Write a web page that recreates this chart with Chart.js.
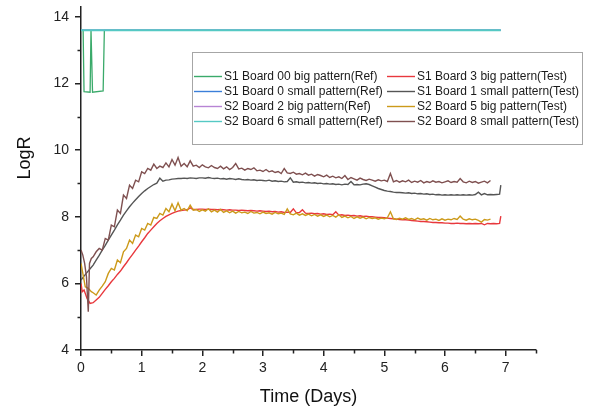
<!DOCTYPE html>
<html>
<head>
<meta charset="utf-8">
<script src="https://cdn.jsdelivr.net/npm/chart.js@4/dist/chart.umd.min.js"></script>
<style>
html,body{margin:0;padding:0;background:#fff;}
canvas{display:block;}
</style>
</head>
<body>
<canvas id="c" width="589" height="409"></canvas>
<script>
// ---- Data ----
const seriesNames = [
  "S1 Board 00 big pattern(Ref)", "S1 Board 3 big pattern(Test)",
  "S1 Board 0 small pattern(Ref)", "S1 Board 1 small pattern(Test)",
  "S2 Board 2 big pattern(Ref)", "S2 Board 5 big pattern(Test)",
  "S2 Board 6 small pattern(Ref)", "S2 Board 8 small pattern(Test)"
];
const seriesColors = ["#3aaa6a","#e8383d","#3b7fd9","#555555","#b784d4","#cc9a1a","#55c9c4","#7f5050"];
const yAxisTitle = "LogR";
const xAxisTitle = "Time (Days)";

const xTicks = [0,1,2,3,4,5,6,7];
const xMinorTicks = [0.5,1.5,2.5,3.5,4.5,5.5,6.5,7.5];
const yTicks = [4,6,8,10,12,14];
const yMinorTicks = [5,7,9,11,13];

// time grid (days) for the sampled curves
const days = [
 0.20,0.25,0.30,0.35,0.40,0.45,0.50,0.55,0.60,0.65,
 0.70,0.75,0.80,0.85,0.90,0.95,1.00,1.05,1.10,1.15,
 1.20,1.25,1.30,1.35,1.40,1.45,1.50,1.55,1.60,1.65,
 1.70,1.75,1.80,1.85,1.90,1.95,2.00,2.05,2.10,2.15,
 2.20,2.25,2.30,2.35,2.40,2.45,2.50,2.55,2.60,2.65,
 2.70,2.75,2.80,2.85,2.90,2.95,3.00,3.05,3.10,3.15,
 3.20,3.25,3.30,3.35,3.40,3.45,3.50,3.55,3.60,3.65,
 3.70,3.75,3.80,3.85,3.90,3.95,4.00,4.05,4.10,4.15,
 4.20,4.25,4.30,4.35,4.40,4.45,4.50,4.55,4.60,4.65,
 4.70,4.75,4.80,4.85,4.90,4.95,5.00,5.05,5.10,5.15,
 5.20,5.25,5.30,5.35,5.40,5.45,5.50,5.55,5.60,5.65,
 5.70,5.75,5.80,5.85,5.90,5.95,6.00,6.05,6.10,6.15,
 6.20,6.25,6.30,6.35,6.40,6.45,6.50,6.55,6.60,6.65,
 6.70,6.75,6.80,6.85,6.90
];

// S1 Board 00 big pattern(Ref) - [day, logR]
const s1b00 = [[0,13.6],[0.035,13.6],[0.05,11.76],[0.15,11.74],[0.165,13.6],[0.175,13.6],[0.19,11.74],[0.365,11.78],[0.385,13.6],[6.9,13.6]];
// S1 Board 0 small / S2 Board 2 big / S2 Board 6 small (Ref)
const s1b0 = [[0,13.6],[6.92,13.6]];
const s2b2 = [[0,13.6],[6.92,13.6]];
const s2b6 = [[0,13.6],[6.92,13.6]];

// S1 Board 3 big pattern(Test)
const s1b3Head = [[0,6.0],[0.02,5.75],[0.05,5.8],[0.1,5.55],[0.15,5.4]];
const s1b3 = [
 5.42,5.50,5.58,5.70,5.82,5.93,6.05,6.15,6.27,6.37,
 6.50,6.62,6.75,6.87,7.00,7.12,7.25,7.37,7.50,7.60,
 7.70,7.80,7.88,7.95,8.01,8.06,8.10,8.14,8.17,8.19,
 8.20,8.21,8.27,8.22,8.22,8.23,8.23,8.22,8.23,8.22,
 8.22,8.21,8.22,8.21,8.20,8.21,8.20,8.20,8.19,8.20,
 8.19,8.18,8.19,8.18,8.17,8.18,8.17,8.16,8.17,8.15,
 8.16,8.14,8.15,8.13,8.14,8.13,8.24,8.12,8.13,8.21,
 8.11,8.10,8.11,8.09,8.10,8.08,8.09,8.07,8.08,8.06,
 8.15,8.05,8.06,8.04,8.05,8.03,8.04,8.02,8.03,8.01,
 8.02,8.00,8.00,7.99,7.98,7.98,7.97,7.96,7.95,7.94,
 7.93,7.92,7.91,7.91,7.90,7.89,7.88,7.87,7.86,7.86,
 7.85,7.84,7.83,7.83,7.82,7.82,7.81,7.81,7.80,7.80,
 7.81,7.80,7.80,7.79,7.80,7.79,7.80,7.79,7.80,7.76,
 7.80,7.79,7.80,7.79,7.80
];
const s1b3Tail = [[6.92,8.02]];

// S1 Board 1 small pattern(Test)
const s1b1Head = [[0,6.1],[0.05,6.22],[0.1,6.33],[0.15,6.44]];
const s1b1 = [
 6.55,6.70,6.84,7.00,7.14,7.30,7.45,7.60,7.76,7.90,
 8.05,8.18,8.30,8.41,8.51,8.61,8.70,8.78,8.85,8.91,
 8.97,9.01,9.16,9.07,9.10,9.11,9.13,9.14,9.15,9.15,
 9.16,9.15,9.17,9.16,9.15,9.17,9.17,9.16,9.18,9.16,
 9.15,9.16,9.14,9.15,9.13,9.15,9.14,9.12,9.14,9.12,
 9.11,9.12,9.10,9.11,9.09,9.10,9.09,9.08,9.10,9.07,
 9.08,9.06,9.07,9.05,9.06,9.17,9.04,9.05,9.03,9.04,
 9.02,9.03,9.01,9.02,9.00,9.01,8.99,9.00,8.98,8.99,
 8.97,8.98,8.96,8.98,8.97,9.06,8.96,8.97,8.96,8.98,
 8.99,8.97,8.93,8.89,8.85,8.82,8.79,8.77,8.76,8.74,
 8.73,8.73,8.72,8.71,8.72,8.70,8.71,8.69,8.70,8.68,
 8.69,8.67,8.68,8.66,8.67,8.65,8.66,8.65,8.66,8.65,
 8.66,8.65,8.66,8.65,8.66,8.65,8.67,8.74,8.66,8.70,
 8.66,8.67,8.66,8.67,8.68
];
const s1b1Tail = [[6.92,8.95]];

// S2 Board 5 big pattern(Test)
const s2b5Head = [[0,6.6],[0.03,6.3],[0.07,5.9],[0.12,5.85],[0.17,5.75]];
const s2b5 = [
 5.72,5.65,5.80,5.92,6.05,6.30,6.45,6.40,6.70,6.62,
 6.95,7.05,7.30,7.20,7.45,7.40,7.65,7.60,7.80,7.75,
 7.98,7.95,8.10,8.05,8.25,8.15,8.38,8.18,8.42,8.20,
 8.25,8.18,8.35,8.20,8.22,8.16,8.21,8.17,8.24,8.15,
 8.20,8.14,8.22,8.13,8.18,8.12,8.17,8.11,8.16,8.12,
 8.14,8.10,8.16,8.11,8.13,8.09,8.14,8.10,8.12,8.08,
 8.13,8.09,8.11,8.07,8.24,8.09,8.06,8.11,8.05,8.09,
 8.04,8.08,8.03,8.07,8.02,8.06,8.01,8.05,8.00,8.04,
 7.99,8.06,7.98,8.02,7.97,8.01,7.95,8.00,7.96,7.99,
 7.94,7.98,7.95,7.97,7.93,7.96,7.94,7.97,8.15,7.94,
 7.92,7.96,7.93,7.97,7.92,7.95,7.91,7.96,7.92,7.94,
 7.90,7.95,7.91,7.93,7.89,7.94,7.90,7.93,7.91,7.95,
 7.92,8.02,7.93,7.90,7.94,7.91,7.93,7.89,7.84,7.92,
 7.90,7.93
];

// S2 Board 8 small pattern(Test)
const s2b8Head = [[0,7.0],[0.03,6.85],[0.06,6.6],[0.09,6.2],[0.12,5.15],[0.14,6.6],[0.17,6.75]];
const s2b8 = [
 6.80,6.95,7.05,7.00,7.35,7.30,7.75,7.70,8.20,8.10,
 8.65,8.55,8.95,8.85,9.10,9.05,9.35,9.30,9.45,9.40,
 9.58,9.45,9.52,9.48,9.62,9.50,9.72,9.55,9.78,9.52,
 9.60,9.50,9.68,9.52,9.55,9.48,9.56,9.50,9.47,9.54,
 9.48,9.45,9.52,9.44,9.50,9.42,9.48,9.60,9.44,9.46,
 9.40,9.45,9.42,9.47,9.38,9.40,9.36,9.42,9.35,9.38,
 9.33,9.36,9.30,9.45,9.32,9.30,9.34,9.28,9.30,9.26,
 9.31,9.25,9.28,9.22,9.27,9.24,9.20,9.25,9.18,9.22,
 9.17,9.20,9.15,9.24,9.12,9.18,9.14,9.10,9.16,9.12,
 9.09,9.13,9.10,9.07,9.11,9.08,9.10,9.06,9.30,9.05,
 9.09,9.04,9.08,9.05,9.10,9.03,9.07,9.04,9.09,9.02,
 9.06,9.03,9.08,9.04,9.06,9.02,9.05,9.08,9.03,9.06,
 9.04,9.15,9.05,9.02,9.07,9.03,9.06,9.01,9.04,9.07,
 9.02,9.09
];

// ---- Build ----
function pairs(arr){ return arr.map(p => ({x:p[0], y:p[1]})); }
function sampled(head, vals, tail){
  const pts = pairs(head);
  vals.forEach((v,i) => pts.push({x:days[i], y:v}));
  return pts.concat(pairs(tail || []));
}

const seriesData = [
  pairs(s1b00),
  sampled(s1b3Head, s1b3, s1b3Tail),
  pairs(s1b0),
  sampled(s1b1Head, s1b1, s1b1Tail),
  pairs(s2b2),
  sampled(s2b5Head, s2b5),
  pairs(s2b6),
  sampled(s2b8Head, s2b8)
];
const widths = [1.3, 1.4, 1.4, 1.4, 1.4, 1.4, 1.9, 1.4];
// draw order: later in legend = drawn on top
const datasets = seriesData.map((d,i) => ({
  label: seriesNames[i],
  data: d,
  borderColor: seriesColors[i],
  backgroundColor: seriesColors[i],
  borderWidth: widths[i],
  pointRadius: 0,
  tension: 0,
  fill: false,
  order: seriesData.length - i
}));

const FONT = "'Liberation Sans', Arial, sans-serif";
const AXIS = '#222';

const minorTicks = {
  id: 'minorTicks',
  afterDraw(chart){
    const {ctx, scales:{x, y}} = chart;
    ctx.save();
    ctx.strokeStyle = AXIS; ctx.lineWidth = 1.5;
    ctx.beginPath();
    xMinorTicks.forEach(v => { const p = Math.round(x.getPixelForValue(v)) + 0.5; ctx.moveTo(p, x.top); ctx.lineTo(p, x.top + 3.5); });
    yMinorTicks.forEach(v => { const p = Math.round(y.getPixelForValue(v)) + 0.5; ctx.moveTo(y.right, p); ctx.lineTo(y.right - 3.5, p); });
    ctx.stroke();
    // y axis title (placed slightly above the axis centre, as in the original)
    ctx.fillStyle = '#111';
    ctx.font = '18px ' + FONT;
    ctx.textAlign = 'center';
    ctx.textBaseline = 'middle';
    ctx.translate(25, 158);
    ctx.rotate(-Math.PI / 2);
    ctx.fillText(yAxisTitle, 0, 0);
    ctx.restore();
  }
};

const boxLegend = {
  id: 'boxLegend',
  afterDatasetsDraw(chart){
    const ctx = chart.ctx;
    ctx.save();
    const bx = 192.5, by = 52.5, bw = 390, bh = 92;
    ctx.fillStyle = '#fff';
    ctx.fillRect(bx, by, bw, bh);
    ctx.strokeStyle = '#a6a6a6'; ctx.lineWidth = 1;
    ctx.strokeRect(bx, by, bw, bh);
    ctx.font = '12px ' + FONT;
    ctx.textBaseline = 'middle';
    ctx.textAlign = 'left';
    const rowsY = [76, 91, 106, 121];
    const colLine = [[194, 222], [387, 415]];
    const colText = [224, 417];
    for (let i = 0; i < seriesNames.length; i++){
      const col = i % 2, row = Math.floor(i / 2);
      const yy = rowsY[row];
      ctx.strokeStyle = seriesColors[i]; ctx.lineWidth = 1.4;
      ctx.beginPath(); ctx.moveTo(colLine[col][0], yy + 0.5); ctx.lineTo(colLine[col][1], yy + 0.5); ctx.stroke();
      ctx.fillStyle = '#1a1a1a';
      ctx.fillText(seriesNames[i], colText[col], yy + 1);
    }
    ctx.restore();
  }
};

function setTicks(list){
  return s => { s.ticks = list.map(v => ({ value: v })); };
}

new Chart(document.getElementById('c'), {
  type: 'line',
  data: { datasets },
  options: {
    responsive: false,
    animation: false,
    devicePixelRatio: 1,
    layout: { padding: { top: 7, right: 53, left: 0, bottom: 0 } },
    plugins: { legend: { display: false }, tooltip: { enabled: false } },
    scales: {
      x: {
        type: 'linear', min: 0, max: 7.5,
        ticks: { color: AXIS, font: { size: 14, family: FONT }, padding: 4, maxRotation: 0, autoSkip: false },
        afterBuildTicks: setTicks(xTicks),
        grid: { drawOnChartArea: false, drawTicks: true, tickLength: 6, color: AXIS, lineWidth: 1.5 },
        border: { display: true, color: AXIS, width: 1.5 },
        title: { display: true, text: xAxisTitle, color: '#111', font: { size: 18, family: FONT }, padding: { top: 0, bottom: 1 } },
        afterFit: s => { s.height = 59; s.paddingLeft = 0; s.paddingRight = 0; }
      },
      y: {
        type: 'linear', min: 4, max: 14.3,
        ticks: { color: AXIS, font: { size: 14, family: FONT }, padding: 6, autoSkip: false },
        afterBuildTicks: setTicks(yTicks),
        grid: { drawOnChartArea: false, drawTicks: true, tickLength: 6, color: AXIS, lineWidth: 1.5 },
        border: { display: true, color: AXIS, width: 1.5 },
        title: { display: false },
        afterFit: s => { s.width = 81; s.paddingTop = 0; s.paddingBottom = 0; }
      }
    }
  },
  plugins: [minorTicks, boxLegend]
});
</script>
</body>
</html>
